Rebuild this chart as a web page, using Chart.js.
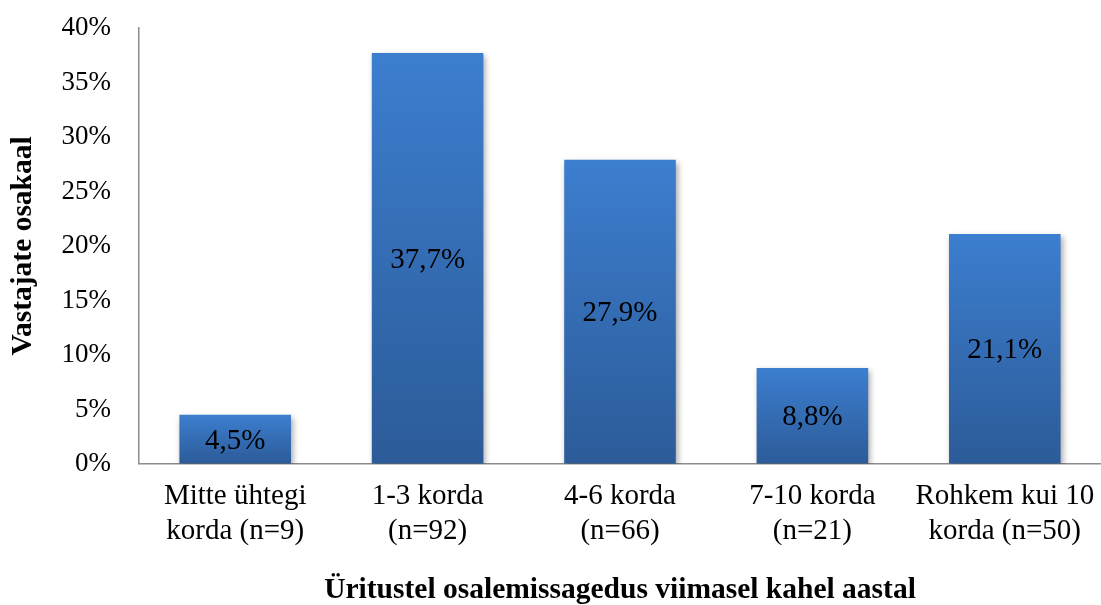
<!DOCTYPE html>
<html>
<head>
<meta charset="utf-8">
<script src="https://cdn.jsdelivr.net/npm/chart.js@4"></script>
<style>
  html, body { margin: 0; padding: 0; background: #fff; }
  #wrap { width: 1101px; height: 605px; }
</style>
</head>
<body>
<div id="wrap"><canvas id="chart"></canvas></div>
<script>
const categories = [
    ['Mitte ühtegi', 'korda (n=9)'],
    ['1-3 korda', '(n=92)'],
    ['4-6 korda', '(n=66)'],
    ['7-10 korda', '(n=21)'],
    ['Rohkem kui 10', 'korda (n=50)']
];
const shares = [4.5, 37.7, 27.9, 8.8, 21.1];
const yTitle = 'Vastajate osakaal';
const xTitle = 'Üritustel osalemissagedus viimasel kahel aastal';

const serif = "'Liberation Serif', 'Times New Roman', serif";

function barGradient(context) {
    const chart = context.chart;
    const y = chart.scales && chart.scales.y;
    if (!y || context.raw === undefined) return '#3672bd';
    const top = y.getPixelForValue(context.raw);
    const bottom = y.getPixelForValue(0);
    if (!isFinite(top) || !isFinite(bottom) || top === bottom) return '#3672bd';
    const g = chart.ctx.createLinearGradient(0, top, 0, bottom);
    g.addColorStop(0, '#3c7ecf');
    g.addColorStop(1, '#2c5b98');
    return g;
}

const shadowPlugin = {
    id: 'barShadow',
    beforeDatasetsDraw(chart) {
        const ctx = chart.ctx;
        ctx.save();
        ctx.shadowColor = 'rgba(0,0,0,0.35)';
        ctx.shadowBlur = 6;
        ctx.shadowOffsetX = 2;
        ctx.shadowOffsetY = 3;
    },
    afterDatasetsDraw(chart) {
        chart.ctx.restore();
    }
};

const labelPlugin = {
    id: 'barLabels',
    afterDatasetsDraw(chart) {
        const ctx = chart.ctx;
        const meta = chart.getDatasetMeta(0);
        ctx.save();
        ctx.shadowColor = 'transparent';
        ctx.fillStyle = '#000';
        ctx.font = '29px ' + serif;
        ctx.textAlign = 'center';
        ctx.textBaseline = 'middle';
        meta.data.forEach((bar, i) => {
            const txt = shares[i].toFixed(1).replace('.', ',') + '%';
            ctx.fillText(txt, bar.x, (bar.y + bar.base) / 2 + 2);
        });
        ctx.restore();
    }
};

// grid lines are hidden, but the tick length is used as label spacing
const hiddenGrid = len => ({ display: true, color: 'rgba(0,0,0,0)', drawTicks: true, tickLength: len });

new Chart(document.getElementById('chart'), {
    type: 'bar',
    data: {
        labels: categories,
        datasets: [{
            data: shares,
            backgroundColor: barGradient,
            borderWidth: 0,
            categoryPercentage: 1,
            barPercentage: 0.58
        }]
    },
    plugins: [shadowPlugin, labelPlugin],
    options: {
        responsive: true,
        maintainAspectRatio: false,
        animation: false,
        layout: { padding: { top: 28, right: 0, left: 2, bottom: 0 } },
        plugins: { legend: { display: false }, tooltip: { enabled: false } },
        scales: {
            y: {
                min: 0, max: 40,
                afterFit(scale) { scale.width = 137; },
                ticks: {
                    stepSize: 5,
                    color: '#000',
                    padding: 0,
                    font: { family: serif, size: 27 },
                    callback: v => v + '%'
                },
                grid: hiddenGrid(28),
                border: { display: true, color: '#8c8c8c', width: 1.5 },
                title: {
                    display: true,
                    text: yTitle,
                    color: '#000',
                    font: { family: serif, size: 29.5, weight: 'bold' },
                    padding: { top: 4, bottom: 4 }
                }
            },
            x: {
                ticks: {
                    color: '#000',
                    padding: 0,
                    maxRotation: 0,
                    font: { family: serif, size: 29, lineHeight: 1.2 }
                },
                grid: hiddenGrid(15),
                border: { display: true, color: '#8c8c8c', width: 1.5 },
                title: {
                    display: true,
                    text: xTitle,
                    color: '#000',
                    font: { family: serif, size: 29.5, weight: 'bold', lineHeight: 1 },
                    padding: { top: 27, bottom: 0 }
                }
            }
        }
    }
});
</script>
</body>
</html>
